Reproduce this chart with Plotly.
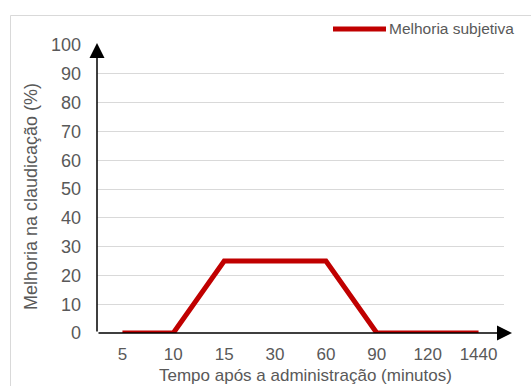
import plotly.graph_objects as go

# Time points (minutes) and reported subjective improvement (%)
tempos = ["5", "10", "15", "30", "60", "90", "120", "1440"]
melhoria = [0, 0, 25, 25, 25, 0, 0, 0]
serie_nome = "Melhoria subjetiva"
titulo_x = "Tempo após a administração (minutos)"
titulo_y = "Melhoria na claudicação (%)"
y_ticks = list(range(0, 101, 10))

RED = "#C00000"
GRAY_TXT = "#595959"
GRID = "#d9d9d9"
FONT = "Liberation Sans, Arial, sans-serif"

W, H = 531, 386
L, R, T, B = 97, 27, 45, 53
PW, PH = W - L - R, H - T - B


def px_x(px):
    return (px - L) / PW


def px_y(py):
    return (H - B - py) / PH


fig = go.Figure()
fig.add_trace(go.Scatter(
    x=tempos, y=melhoria, mode="lines", name=serie_nome,
    line=dict(color=RED, width=5), showlegend=False,
))

fig.update_layout(
    width=W, height=H,
    margin=dict(l=L, r=R, t=T, b=B),
    paper_bgcolor="white", plot_bgcolor="white",
    font=dict(family=FONT, color=GRAY_TXT, size=17),
    xaxis=dict(
        type="category", range=[-0.5, len(tempos) - 0.5],
        showgrid=False, zeroline=False, showline=False,
        ticks="", ticklabelstandoff=9,
        tickfont=dict(size=17, color=GRAY_TXT),
    ),
    yaxis=dict(
        range=[0, 100], tickvals=y_ticks, showgrid=True, gridcolor=GRID,
        gridwidth=1, zeroline=False, showline=False, ticks="",
        ticklabelstandoff=15,
        tickfont=dict(size=18, color=GRAY_TXT),
    ),
    shapes=[
        # outer chart border
        dict(type="rect", xref="paper", yref="paper",
             x0=px_x(10.5), x1=px_x(540), y0=px_y(400), y1=px_y(15.5),
             line=dict(color=GRID, width=1), fillcolor="rgba(0,0,0,0)",
             layer="below"),
        # legend swatch
        dict(type="line", xref="paper", yref="paper",
             x0=px_x(333), x1=px_x(386), y0=px_y(29), y1=px_y(29),
             line=dict(color=RED, width=5)),
    ],
    annotations=[
        # x axis with arrow
        dict(xref="paper", yref="paper", axref="pixel", ayref="pixel",
             x=px_x(512), y=0, ax=-(512 - L), ay=0, showarrow=True, text="",
             arrowhead=2, arrowsize=2, arrowwidth=1.5, arrowcolor="black"),
        # y axis with arrow
        dict(xref="paper", yref="paper", axref="pixel", ayref="pixel",
             x=0, y=px_y(43), ax=0, ay=(H - B - 43), showarrow=True, text="",
             arrowhead=2, arrowsize=2, arrowwidth=1.5, arrowcolor="black"),
        # legend text
        dict(xref="paper", yref="paper", x=px_x(387), y=px_y(29),
             xanchor="left", yanchor="middle", showarrow=False,
             text=serie_nome, font=dict(size=15.5, color=GRAY_TXT)),
        # axis titles
        dict(xref="paper", yref="paper", x=px_x(305), y=px_y(375),
             xanchor="center", yanchor="middle", showarrow=False,
             text=titulo_x, font=dict(size=17, color=GRAY_TXT)),
        dict(xref="paper", yref="paper", x=px_x(31), y=px_y(197),
             xanchor="center", yanchor="middle", showarrow=False,
             textangle=-90, text=titulo_y, font=dict(size=18, color=GRAY_TXT)),
    ],
)

fig.write_html("out.html")
